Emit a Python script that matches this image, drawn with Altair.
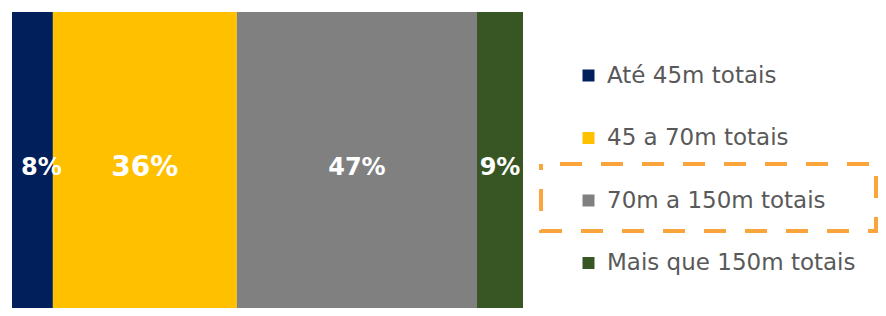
import altair as alt
import pandas as pd

categories = ["Até 45m totais", "45 a 70m totais", "70m a 150m totais", "Mais que 150m totais"]
shares = [8, 36, 47, 9]
labels = ["8%", "36%", "47%", "9%"]
colors = ["#001F5B", "#FFC000", "#808080", "#375623"]

df = pd.DataFrame({"cat": categories, "share": shares, "label": labels, "idx": list(range(len(categories)))})

W, H = 511, 296
LEG_FONT = "DejaVu Sans"
BAR_FONT = "DejaVu Sans"

base = alt.Chart(df).transform_stack(
    stack="share", groupby=[], as_=["x0", "x1"], sort=[alt.SortField("idx")]
).transform_calculate(mid="(datum.x0 + datum.x1) / 2")

xscale = alt.Scale(domain=[0, 100], nice=False, zero=True)

bars = base.mark_rect().encode(
    x=alt.X("x0:Q", scale=xscale, axis=None),
    x2="x1:Q",
    y=alt.value(0),
    y2=alt.value(H),
    color=alt.Color(
        "cat:N",
        scale=alt.Scale(domain=categories, range=colors),
        legend=alt.Legend(
            title=None, orient="none", legendX=565, legendY=52,
            symbolType="square", symbolSize=144, symbolStrokeWidth=0, symbolOpacity=1,
            labelFont=LEG_FONT, labelFontSize=23, labelColor="#595959", labelLimit=400,
            rowPadding=38.5, labelOffset=7, padding=0,
        ),
    ),
)

def text_layer(cond, size, dx=0):
    return base.transform_filter(cond).mark_text(
        color="white", font=BAR_FONT, fontWeight="bold", fontSize=size,
        baseline="middle", align="center", dx=dx,
    ).encode(
        x=alt.X("mid:Q", scale=xscale, axis=None),
        y=alt.value(156),
        text="label:N",
    )

t0 = text_layer("datum.idx == 0", 24, dx=9)
t1 = text_layer("datum.idx == 1", 28)
t2 = text_layer("datum.idx >= 2", 24)

box = alt.Chart(pd.DataFrame({"k": [0]})).mark_rect(
    filled=False, stroke="#F9A53B", strokeWidth=4,
    strokeDash=[22, 19], strokeDashOffset=22,
).encode(
    x=alt.value(529), x2=alt.value(864),
    y=alt.value(152), y2=alt.value(219),
)

chart = alt.layer(bars, t0, t1, t2, box).properties(
    width=W, height=H,
    autosize=alt.AutoSizeParams(type="none"),
    padding={"left": 4, "top": 4, "right": 355, "bottom": 0},
    background="white",
).configure_view(stroke=None)

chart.save("out.html", embed_options={"renderer": "svg", "actions": False})
